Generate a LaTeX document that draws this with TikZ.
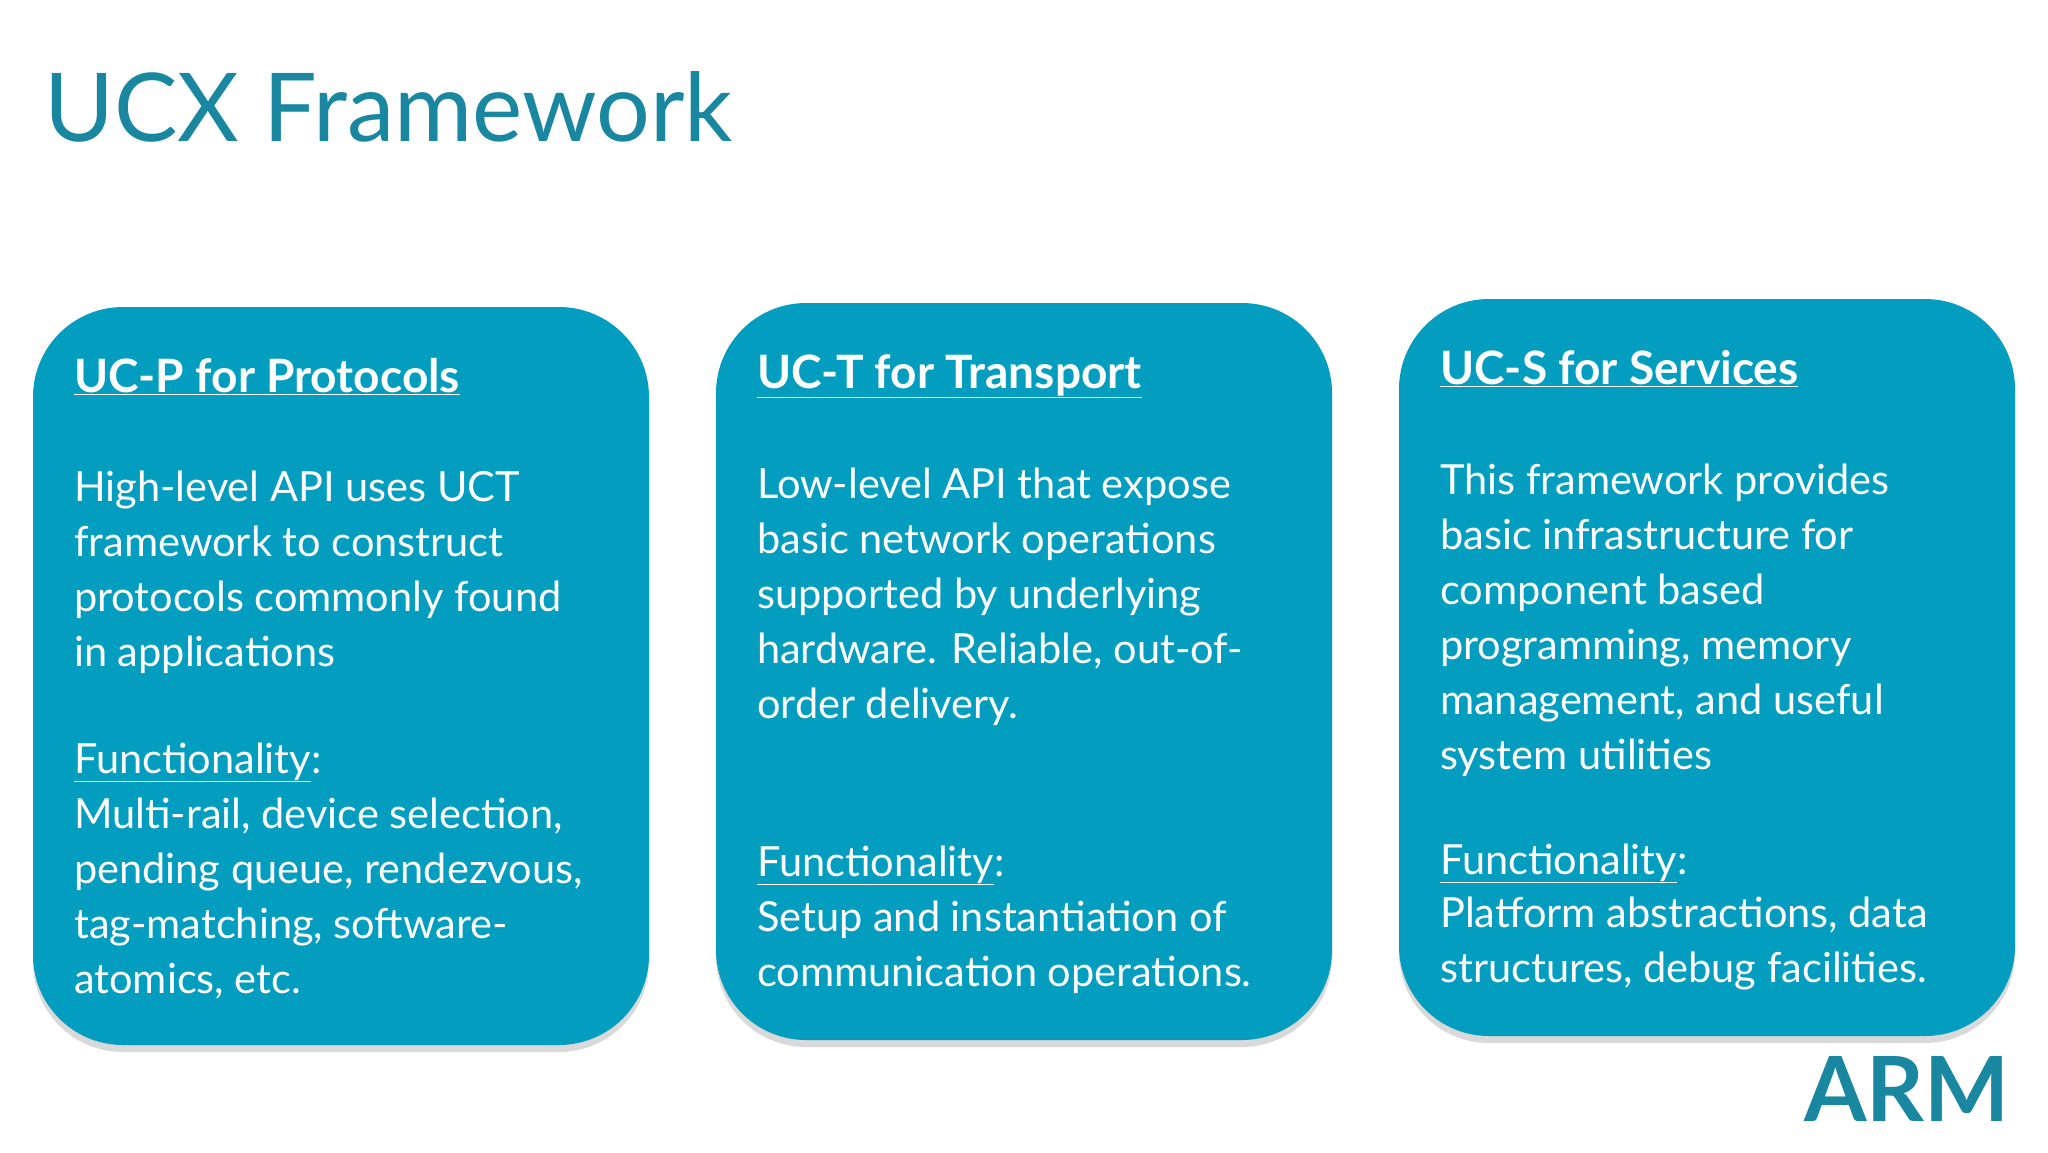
\documentclass[tikz,border=0pt]{standalone}
\usepackage{fontspec}
\setmainfont{Lato}
\usetikzlibrary{shadows}
\definecolor{boxc}{HTML}{029DBF}
\definecolor{titc}{HTML}{1A87A0}
\begin{document}
\begin{tikzpicture}[x=1pt,y=-1pt,
  box/.style={fill=boxc,rounded corners=90pt,drop shadow={shadow xshift=0pt,shadow yshift=-7pt,opacity=0.25,fill=black!60}},
  txt/.style={anchor=base west,inner sep=0pt,text=white,font=\fontsize{41.5}{55}\selectfont,align=left},
  head/.style={txt,font=\fontsize{46}{55}\selectfont\bfseries}]
\useasboundingbox (0,0) rectangle (2048,1152);
\node[anchor=base west,inner sep=0pt,text=titc,font=\fontsize{95}{110}\selectfont] (title) at (44,141) {UCX Framework};
\path[box] (33,307) rectangle (649,1045);
\path[box] (716,303) rectangle (1332,1040);
\path[box] (1399,299) rectangle (2015,1036);
% box 1
\node[head] (h1) at (74,392) {\underline{UC-P for Protocols}};
\node[txt] (a1) at (74,501) {High-level API uses UCT};
\node[txt] (a2) at (74,556) {framework to construct};
\node[txt] (a3) at (74,611) {protocols commonly found};
\node[txt] (a4) at (74,666) {in applications};
\node[txt] (f1) at (74,773) {\underline{Functionality}:};
\node[txt] (b1) at (74,828) {Multi-rail, device selection,};
\node[txt] (b2) at (74,883) {pending queue, rendezvous,};
\node[txt] (b3) at (74,938) {tag-matching, software-};
\node[txt] (b4) at (74,993) {atomics, etc.};
% box 2
\node[head] (h2) at (757,388) {\underline{UC-T for Transport}};
\node[txt] (c1) at (757,498) {Low-level API that expose};
\node[txt] (c2) at (757,553) {basic network operations};
\node[txt] (c3) at (757,608) {supported by underlying};
\node[txt] (c4) at (757,663) {hardware. Reliable, out-of-};
\node[txt] (c5) at (757,718) {order delivery.};
\node[txt] (f2) at (757,876) {\underline{Functionality}:};
\node[txt] (d1) at (757,931) {Setup and instantiation of};
\node[txt] (d2) at (757,986) {communication operations.};
% box 3
\node[head] (h3) at (1440,384) {\underline{UC-S for Services}};
\node[txt] (e1) at (1440,494) {This framework provides};
\node[txt] (e2) at (1440,549) {basic infrastructure for};
\node[txt] (e3) at (1440,604) {component based};
\node[txt] (e4) at (1440,659) {programming, memory};
\node[txt] (e5) at (1440,714) {management,\ and useful};
\node[txt] (e6) at (1440,769) {system utilities};
\node[txt] (f3) at (1440,874) {\underline{Functionality}:};
\node[txt] (g1) at (1440,927) {Platform abstractions, data};
\node[txt] (g2) at (1440,982) {structures, debug facilities.};
\node[anchor=base west,inner sep=0pt,text=titc,font=\fontsize{90}{90}\selectfont\bfseries] (arm) at (1804,1121) {ARM};
\end{tikzpicture}
\end{document}
